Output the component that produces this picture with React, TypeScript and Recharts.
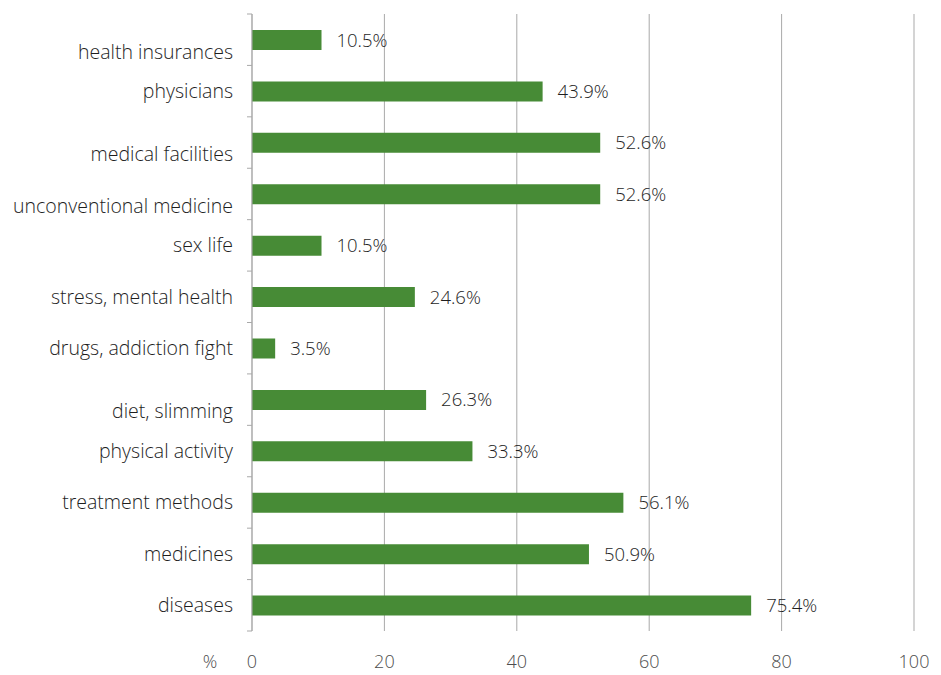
import React from 'react';
import { BarChart, Bar, XAxis, YAxis, CartesianGrid, LabelList, Label } from 'recharts';

const topics = [
  'health insurances',
  'physicians',
  'medical facilities',
  'unconventional medicine',
  'sex life',
  'stress, mental health',
  'drugs, addiction fight',
  'diet, slimming',
  'physical activity',
  'treatment methods',
  'medicines',
  'diseases',
];
const shares = [10.5, 43.9, 52.6, 52.6, 10.5, 24.6, 3.5, 26.3, 33.3, 56.1, 50.9, 75.4];
const xTicks = [0, 20, 40, 60, 80, 100];

// labels that sit a line lower in the original figure
const lowered = new Set(['health insurances', 'medical facilities', 'unconventional medicine', 'diet, slimming']);

const data = topics.map((name, i) => ({ name, value: shares[i] }));

const W = 941;
const H = 675;
const M = { top: 14, right: 27, bottom: 0, left: 0 };
const X_AXIS_H = 44;
const band = (H - M.top - M.bottom - X_AXIS_H) / topics.length;
const FONT = '"Open Sans", "Segoe UI", sans-serif';
const GRID = '#a9a9a9';
const TEXT = '#1e1e1e';
const AXIS_TEXT = '#4d4d4d';

function CategoryTick(props: any) {
  const { x, y, payload, index } = props;
  const shift = lowered.has(payload.value) ? 12 : 0;
  return (
    <g>
      <line x1={x + 20} x2={x + 25} y1={y - band / 2} y2={y - band / 2} stroke={GRID} />
      {index === topics.length - 1 && (
        <line x1={x + 20} x2={x + 25} y1={y + band / 2} y2={y + band / 2} stroke={GRID} />
      )}
      <text x={x + 6} y={y + shift} dy="0.35em" textAnchor="end" fontSize={19.5} fontWeight={300} fill={TEXT} fontFamily={FONT}>
        {payload.value}
      </text>
    </g>
  );
}

function ValueTick(props: any) {
  const { x, y, payload } = props;
  return (
    <text x={x} y={y + 23} dy="0.35em" textAnchor="middle" fontSize={18} fontWeight={300} fill={AXIS_TEXT} fontFamily={FONT}>
      {payload.value}
    </text>
  );
}

function UnitLabel(props: any) {
  const { viewBox } = props;
  return (
    <text x={viewBox.x - 42} y={viewBox.y + 31} dy="0.35em" textAnchor="middle" fontSize={18} fontWeight={300} fill={AXIS_TEXT} fontFamily={FONT}>
      %
    </text>
  );
}

export default function App() {
  return (
    <div style={{ position: 'absolute', left: 0, top: 0, width: W, height: H, background: '#fff' }}>
      <BarChart width={W} height={H} data={data} layout="vertical" margin={M}>
        <CartesianGrid horizontal={false} stroke={GRID} />
        <XAxis
          type="number"
          domain={[0, 100]}
          ticks={xTicks}
          axisLine={false}
          tickLine={false}
          height={X_AXIS_H}
          tick={<ValueTick />}
        >
          <Label content={<UnitLabel />} />
        </XAxis>
        <YAxis
          type="category"
          dataKey="name"
          width={252}
          axisLine={{ stroke: GRID }}
          tickLine={false}
          tickMargin={19}
          tick={<CategoryTick />}
          interval={0}
        />
        <Bar dataKey="value" fill="#478b36" barSize={20} isAnimationActive={false}>
          <LabelList
            dataKey="value"
            position="right"
            offset={15}
            formatter={(v: any) => `${Number(v).toFixed(1)}%`}
            style={{ fontSize: 18.5, fontWeight: 300, fill: TEXT, fontFamily: FONT }}
          />
        </Bar>
      </BarChart>
    </div>
  );
}
